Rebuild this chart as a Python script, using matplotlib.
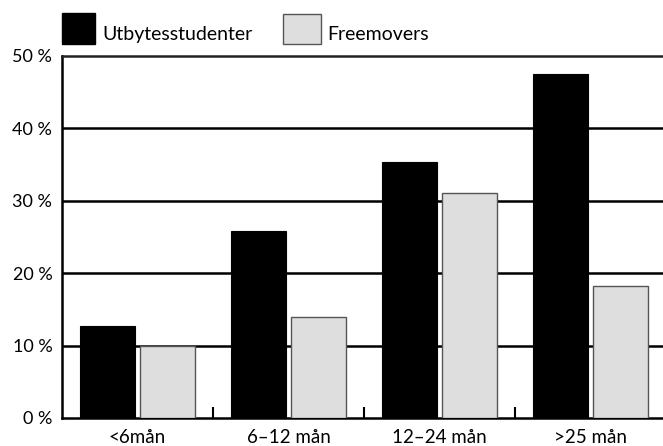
import numpy as np
import matplotlib
matplotlib.use("Agg")
from matplotlib import pyplot as plt
from matplotlib.patches import Rectangle

categories = ["<6mån", "6–12 mån", "12–24 mån", ">25 mån"]
utbyte = [12.7, 25.8, 35.4, 47.5]
freemovers = [10.0, 14.0, 31.1, 18.2]
yticks = [0, 10, 20, 30, 40, 50]
ylabels = ["0 %", "10 %", "20 %", "30 %", "40 %", "50 %"]

plt.rcParams['font.family'] = ['Lato', 'DejaVu Sans']

fig = plt.figure(figsize=(6.63, 4.46), dpi=100)
W, H = 663, 446
ax = fig.add_axes([62 / W, 1 - 418 / H, 604 / W, (418 - 56) / H])

x = np.arange(len(categories))
w = 0.365
ax.bar(x - 0.2, utbyte, w, color="black", edgecolor="black", linewidth=0.8, zorder=3)
ax.bar(x + 0.2, freemovers, w, color="#dedede", edgecolor="#555555", linewidth=1.0, zorder=3)

for v in yticks[1:-1]:
    ax.axhline(v, color="black", linewidth=1.8, zorder=1)

ax.set_xlim(-0.5, 3.5)
ax.set_ylim(0, 50)
ax.set_yticks(yticks)
ax.set_yticklabels(ylabels, fontsize=13)
ax.tick_params(axis="y", length=0, pad=7)

ax.set_xticks([0.5, 1.5, 2.5])
ax.set_xticklabels([])
ax.tick_params(axis="x", direction="in", length=8, width=1.5, color="black")
ax.set_xticks(x, minor=True)
ax.set_xticklabels(categories, minor=True, fontsize=13.5)
ax.tick_params(axis="x", which="minor", length=0, pad=8)

ax.spines["right"].set_visible(False)
for s in ["left", "bottom", "top"]:
    ax.spines[s].set_linewidth(1.8)
ax.spines["top"].set_color("#222222")

# legend
fig.patches.append(Rectangle((62 / W, 1 - 44 / H), 33 / W, 31 / H, transform=fig.transFigure,
                             facecolor="black", edgecolor="black"))
fig.text(102 / W, 1 - 40 / H, "Utbytesstudenter", fontsize=14, va="baseline", ha="left")
fig.patches.append(Rectangle((283 / W, 1 - 44 / H), 38 / W, 30 / H, transform=fig.transFigure,
                             facecolor="#dedede", edgecolor="#555555", linewidth=1.0))
fig.text(327 / W, 1 - 40 / H, "Freemovers", fontsize=14, va="baseline", ha="left")

fig.savefig("out.png", dpi=100)
